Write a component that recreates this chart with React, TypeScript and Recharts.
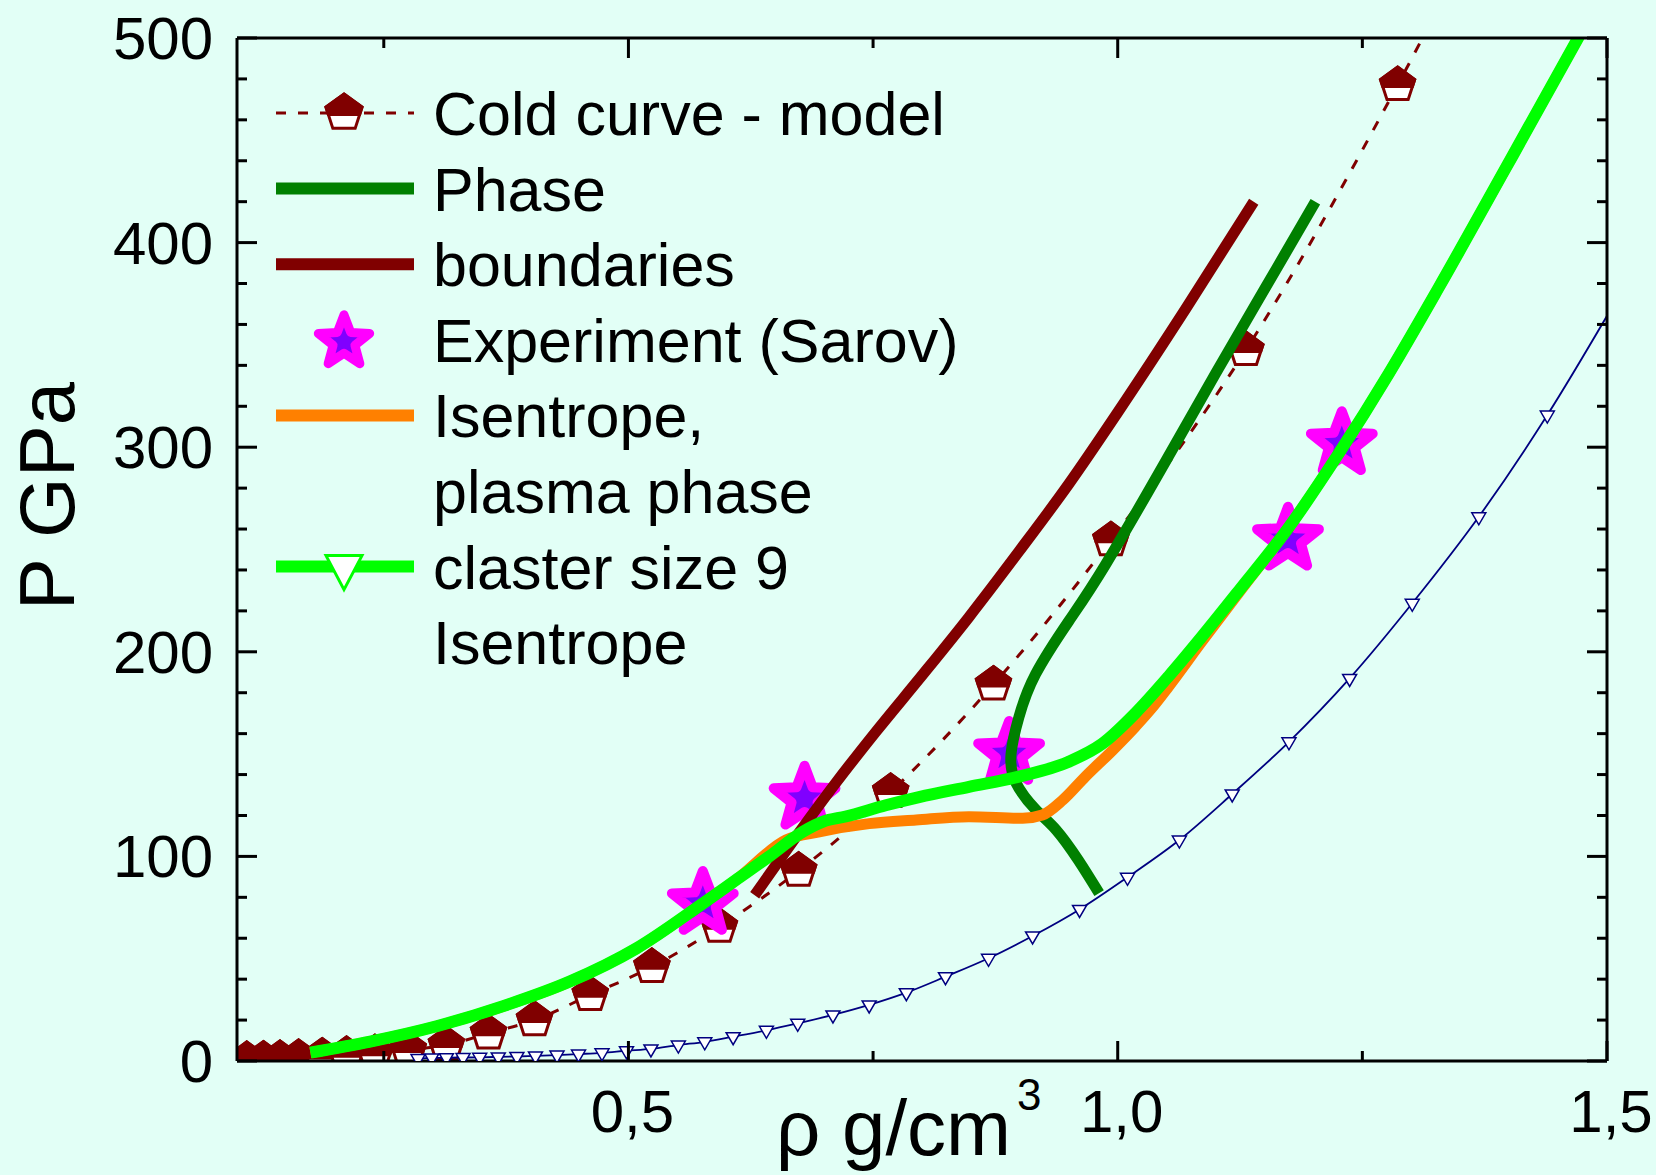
import React from 'react';
import { ComposedChart, Line, Scatter, XAxis, YAxis, Legend } from 'recharts';

const BG = '#E2FFF6';
const FONT = "'Liberation Sans', Arial, Helvetica, sans-serif";

// axis ticks
const xTicks = [0.25, 0.5, 0.75, 1.0, 1.25, 1.5];
const xLabelled = [0.5, 1.0, 1.5];
const yTicks = [0, 20, 40, 60, 80, 100, 120, 140, 160, 180, 200, 220, 240, 260, 280, 300, 320, 340, 360, 380, 400, 420, 440, 460, 480, 500];

const legendRows = ['Cold curve - model', 'Phase', 'boundaries', 'Experiment (Sarov)', 'Isentrope,', 'plasma phase', 'claster size 9', 'Isentrope'];

// [density g/cm3, pressure GPa]
const coldCurve = [
  [0.11, 0.5], [0.127, 0.7], [0.144, 1.0], [0.163, 1.5], [0.187, 2.2], [0.212, 3.0], [0.241, 3.8],
  [0.275, 5.4], [0.314, 7.8], [0.357, 13.5], [0.404, 20], [0.461, 32.3], [0.524, 46], [0.593, 65.6],
  [0.674, 93], [0.768, 131.5], [0.873, 184], [0.993, 254.5], [1.131, 347.5], [1.286, 477], [1.456, 638],
];

const brownBoundary = [
  [0.629, 81], [0.678, 114], [0.712, 136], [0.753, 161], [0.801, 189], [0.848, 217],
  [0.899, 249], [0.95, 282], [1.0, 317], [1.07, 368], [1.139, 420],
];

const greenBoundary = [
  [1.202, 420], [1.151, 378], [1.1, 336], [1.05, 294], [0.988, 243], [0.95, 215], [0.916, 189],
  [0.899, 168], [0.891, 150], [0.896, 136], [0.916, 123], [0.937, 113], [0.96, 98], [0.981, 82],
];

const experiment = [[0.576, 77], [0.68, 128.4], [0.889, 150.3], [1.174, 255], [1.229, 301.7]];

const plasmaIsentrope = [
  [0.175, 4.1], [0.236, 9.5], [0.304, 17], [0.372, 26.8], [0.44, 38.8], [0.508, 55], [0.576, 77],
  [0.61, 88.5], [0.661, 108], [0.695, 112], [0.746, 116], [0.794, 117.8], [0.848, 119.4], [0.903, 118.6],
  [0.923, 120.2], [0.944, 127.6], [0.967, 139], [0.995, 152], [1.018, 163.4], [1.034, 172], [1.052, 183],
  [1.086, 205], [1.124, 229], [1.175, 261], [1.226, 297], [1.277, 336], [1.328, 378], [1.396, 436],
  [1.467, 497], [1.49, 517],
];

const clusterIsentrope = [
  [0.175, 4.1], [0.236, 9.5], [0.304, 17], [0.372, 26.8], [0.44, 38.8], [0.508, 55], [0.576, 77],
  [0.61, 88.5], [0.644, 100], [0.678, 112], [0.699, 117], [0.722, 119.5], [0.763, 125], [0.797, 129],
  [0.848, 134], [0.899, 139], [0.95, 146.3], [0.984, 155], [1.018, 170], [1.052, 188], [1.086, 207.4],
  [1.124, 230], [1.175, 261], [1.226, 297], [1.277, 336], [1.328, 378], [1.396, 436], [1.467, 497],
  [1.49, 517],
];

const blueIsentrope = [
  [0.285, 1.2], [0.299, 1.5], [0.314, 1.6], [0.331, 1.7], [0.348, 1.8], [0.367, 2.0], [0.386, 2.2],
  [0.405, 2.5], [0.427, 2.9], [0.449, 3.4], [0.473, 4.0], [0.498, 5.0], [0.523, 5.9], [0.551, 7.8],
  [0.578, 9.4], [0.607, 11.9], [0.641, 15], [0.673, 18.4], [0.709, 22.5], [0.746, 27.4], [0.784, 33.4],
  [0.824, 41.2], [0.868, 50.2], [0.913, 61.1], [0.961, 74.1], [1.01, 89.8], [1.063, 108], [1.117, 130.5],
  [1.175, 156], [1.237, 187], [1.301, 223.7], [1.369, 266], [1.439, 315.7], [1.512, 374],
];

const pts = (arr: number[][]) => arr.map(([x, y]) => ({ x, y }));

const starPath = (cx: number, cy: number, R: number, r: number) => {
  let d = '';
  for (let i = 0; i < 10; i++) {
    const a = -Math.PI / 2 + (i * Math.PI) / 5;
    const rad = i % 2 ? r : R;
    d += (i ? 'L' : 'M') + (cx + rad * Math.cos(a)).toFixed(2) + ' ' + (cy + rad * Math.sin(a)).toFixed(2);
  }
  return d + 'Z';
};

const Pentagon = ({ cx, cy, r }: { cx: number; cy: number; r: number }) => {
  const p = [0, 1, 2, 3, 4].map((i) => {
    const a = -Math.PI / 2 + (i * 2 * Math.PI) / 5;
    return [cx + r * Math.cos(a), cy + r * Math.sin(a)];
  });
  const split = cy + 0.08 * r;
  const t = (split - p[1][1]) / (p[2][1] - p[1][1]);
  const xr = p[1][0] + t * (p[2][0] - p[1][0]);
  const xl = 2 * cx - xr;
  const full = p.map((q, i) => (i ? 'L' : 'M') + q[0] + ' ' + q[1]).join('') + 'Z';
  const upper = `M${p[0][0]} ${p[0][1]}L${p[1][0]} ${p[1][1]}L${xr} ${split}L${xl} ${split}L${p[4][0]} ${p[4][1]}Z`;
  return (
    <g>
      <path d={full} fill="#fff" stroke="#800000" strokeWidth={3} />
      <path d={upper} fill="#800000" stroke="#800000" strokeWidth={3} />
    </g>
  );
};

const pentagonShape = (props: any) => <Pentagon cx={props.cx} cy={props.cy} r={18} />;

const triDot = (props: any) => {
  const { cx, cy, index } = props;
  if (cx == null || cy == null) return <g key={`t${index}`} />;
  return (
    <path
      key={`t${index}`}
      d={`M${cx - 7} ${cy - 4}L${cx + 7} ${cy - 4}L${cx} ${cy + 8}Z`}
      fill="#fff"
      stroke="#000080"
      strokeWidth={1.5}
    />
  );
};

const starShape = (props: any) => (
  <path d={starPath(props.cx, props.cy, 32.5, 13.7)} fill="#8000FF" stroke="#FF00FF" strokeWidth={10} strokeLinejoin="round" />
);

const BottomTick = (props: any) => {
  const { x, y, payload } = props;
  const major = xLabelled.some((v) => Math.abs(v - payload.value) < 1e-6);
  return (
    <g>
      <line x1={x} x2={x} y1={y} y2={y - (major ? 20 : 10)} stroke="#000" strokeWidth={3} />
      {major && (
        <text x={x + 4} y={y + 71} textAnchor="middle" fontSize={60} fontFamily={FONT} fill="#000">
          {Number(payload.value).toFixed(1).replace('.', ',')}
        </text>
      )}
    </g>
  );
};

const TopTick = (props: any) => {
  const { x, y, payload } = props;
  const major = xLabelled.some((v) => Math.abs(v - payload.value) < 1e-6);
  return <line x1={x} x2={x} y1={y} y2={y + (major ? 20 : 10)} stroke="#000" strokeWidth={3} />;
};

const LeftTick = (props: any) => {
  const { x, y, payload } = props;
  const major = payload.value % 100 === 0;
  return (
    <g>
      <line x1={x} x2={x + (major ? 20 : 10)} y1={y} y2={y} stroke="#000" strokeWidth={3} />
      {major && (
        <text x={x - 24} y={y + 21} textAnchor="end" fontSize={60} fontFamily={FONT} fill="#000">
          {payload.value}
        </text>
      )}
    </g>
  );
};

const RightTick = (props: any) => {
  const { x, y, payload } = props;
  const major = payload.value % 100 === 0;
  return <line x1={x} x2={x - (major ? 20 : 10)} y1={y} y2={y} stroke="#000" strokeWidth={3} />;
};

const XTitle = () => (
  <text x={776} y={1155} fontSize={78} fontFamily={FONT} fill="#000">
    ρ g/cm
    <tspan fontSize={44} dx={6} dy={-45}>3</tspan>
  </text>
);

const YTitle = () => (
  <text x={74} y={496} transform="rotate(-90 74 496)" textAnchor="middle" fontSize={78} fontFamily={FONT} fill="#000">
    P GPa
  </text>
);

const LegendBox = () => {
  const x0 = 276;
  const x1 = 414;
  const mx = 344;
  const textX = 433;
  const base = 135;
  const step = 75.6;
  const lineY = (i: number) => base + i * step - 22;
  return (
    <svg width={1656} height={1175} style={{ display: 'block', pointerEvents: 'none' }}>
      <line x1={x0} x2={x1} y1={lineY(0)} y2={lineY(0)} stroke="#800000" strokeWidth={3} strokeDasharray="10 12" />
      <Pentagon cx={mx} cy={lineY(0)} r={19} />
      <line x1={x0} x2={x1} y1={lineY(1)} y2={lineY(1)} stroke="#008000" strokeWidth={12} />
      <line x1={x0} x2={x1} y1={lineY(2)} y2={lineY(2)} stroke="#800000" strokeWidth={12} />
      <path d={starPath(mx, lineY(3) + 2, 27, 11.5)} fill="#8000FF" stroke="#FF00FF" strokeWidth={9} strokeLinejoin="round" />
      <line x1={x0} x2={x1} y1={lineY(4)} y2={lineY(4)} stroke="#FF8000" strokeWidth={12} />
      <line x1={x0} x2={x1} y1={lineY(6)} y2={lineY(6)} stroke="#00FF00" strokeWidth={12} />
      <path
        d={`M${mx - 18} ${lineY(6) - 11}L${mx + 18} ${lineY(6) - 11}L${mx} ${lineY(6) + 23}Z`}
        fill="#fff"
        stroke="#00FF00"
        strokeWidth={3}
      />
      {legendRows.map((t, i) => (
        <text key={t} x={textX} y={base + i * step} fontSize={61} fontFamily={FONT} fill="#000">
          {t}
        </text>
      ))}
    </svg>
  );
};

const axisLine = { stroke: '#000', strokeWidth: 3 };

export default function App() {
  return (
    <div style={{ position: 'absolute', left: 0, top: 0, width: 1656, height: 1175, background: BG, overflow: 'hidden' }}>
      <ComposedChart width={1656} height={1175} margin={{ top: 0, right: 0, bottom: 0, left: 0 }}>
        <XAxis
          xAxisId="b"
          orientation="bottom"
          type="number"
          dataKey="x"
          domain={[0.1, 1.5]}
          allowDataOverflow
          ticks={xTicks}
          interval={0}
          height={114}
          tickLine={false}
          tickSize={0}
          tickMargin={0}
          axisLine={axisLine}
          tick={BottomTick}
          label={{ value: 'ρ g/cm3', content: XTitle }}
        />
        <XAxis
          xAxisId="t"
          orientation="top"
          type="number"
          dataKey="x"
          domain={[0.1, 1.5]}
          allowDataOverflow
          ticks={xTicks}
          interval={0}
          height={38}
          tickLine={false}
          tickSize={0}
          tickMargin={0}
          axisLine={axisLine}
          tick={TopTick}
        />
        <YAxis
          yAxisId="l"
          orientation="left"
          type="number"
          dataKey="y"
          domain={[0, 500]}
          allowDataOverflow
          ticks={yTicks}
          interval={0}
          width={237}
          tickLine={false}
          tickSize={0}
          tickMargin={0}
          axisLine={axisLine}
          tick={LeftTick}
          label={{ value: 'P GPa', content: YTitle }}
        />
        <YAxis
          yAxisId="r"
          orientation="right"
          type="number"
          dataKey="y"
          domain={[0, 500]}
          allowDataOverflow
          ticks={yTicks}
          interval={0}
          width={49}
          tickLine={false}
          tickSize={0}
          tickMargin={0}
          axisLine={axisLine}
          tick={RightTick}
        />
        <Line
          xAxisId="b"
          yAxisId="l"
          data={pts(coldCurve)}
          dataKey="y"
          type="monotone"
          stroke="#800000"
          strokeWidth={3}
          strokeDasharray="10 12"
          dot={false}
          activeDot={false}
          isAnimationActive={false}
          zIndex={370}
        />
        <Scatter
          xAxisId="b"
          yAxisId="l"
          data={pts(coldCurve)}
          dataKey="y"
          shape={pentagonShape}
          isAnimationActive={false}
          zIndex={380}
        />
        <Scatter
          xAxisId="b"
          yAxisId="l"
          data={pts(experiment)}
          dataKey="y"
          shape={starShape}
          isAnimationActive={false}
          zIndex={390}
        />
        <Line
          xAxisId="b"
          yAxisId="l"
          data={pts(blueIsentrope)}
          dataKey="y"
          type="monotone"
          stroke="#000080"
          strokeWidth={1.8}
          dot={triDot}
          activeDot={false}
          isAnimationActive={false}
        />
        <Line
          xAxisId="b"
          yAxisId="l"
          data={pts(brownBoundary)}
          dataKey="y"
          type="monotone"
          stroke="#800000"
          strokeWidth={11}
          dot={false}
          activeDot={false}
          isAnimationActive={false}
        />
        <Line
          xAxisId="b"
          yAxisId="l"
          data={pts(greenBoundary)}
          dataKey="y"
          type="natural"
          stroke="#008000"
          strokeWidth={11}
          dot={false}
          activeDot={false}
          isAnimationActive={false}
        />
        <Line
          xAxisId="b"
          yAxisId="l"
          data={pts(plasmaIsentrope)}
          dataKey="y"
          type="monotone"
          stroke="#FF8000"
          strokeWidth={11}
          dot={false}
          activeDot={false}
          isAnimationActive={false}
        />
        <Line
          xAxisId="b"
          yAxisId="l"
          data={pts(clusterIsentrope)}
          dataKey="y"
          type="monotone"
          stroke="#00FF00"
          strokeWidth={12}
          dot={false}
          activeDot={false}
          isAnimationActive={false}
        />
        <Legend
          layout="horizontal"
          verticalAlign="middle"
          align="center"
          wrapperStyle={{ left: 0, top: 0, width: 1656, height: 1175, pointerEvents: 'none' }}
          content={() => <LegendBox />}
        />
      </ComposedChart>
    </div>
  );
}
